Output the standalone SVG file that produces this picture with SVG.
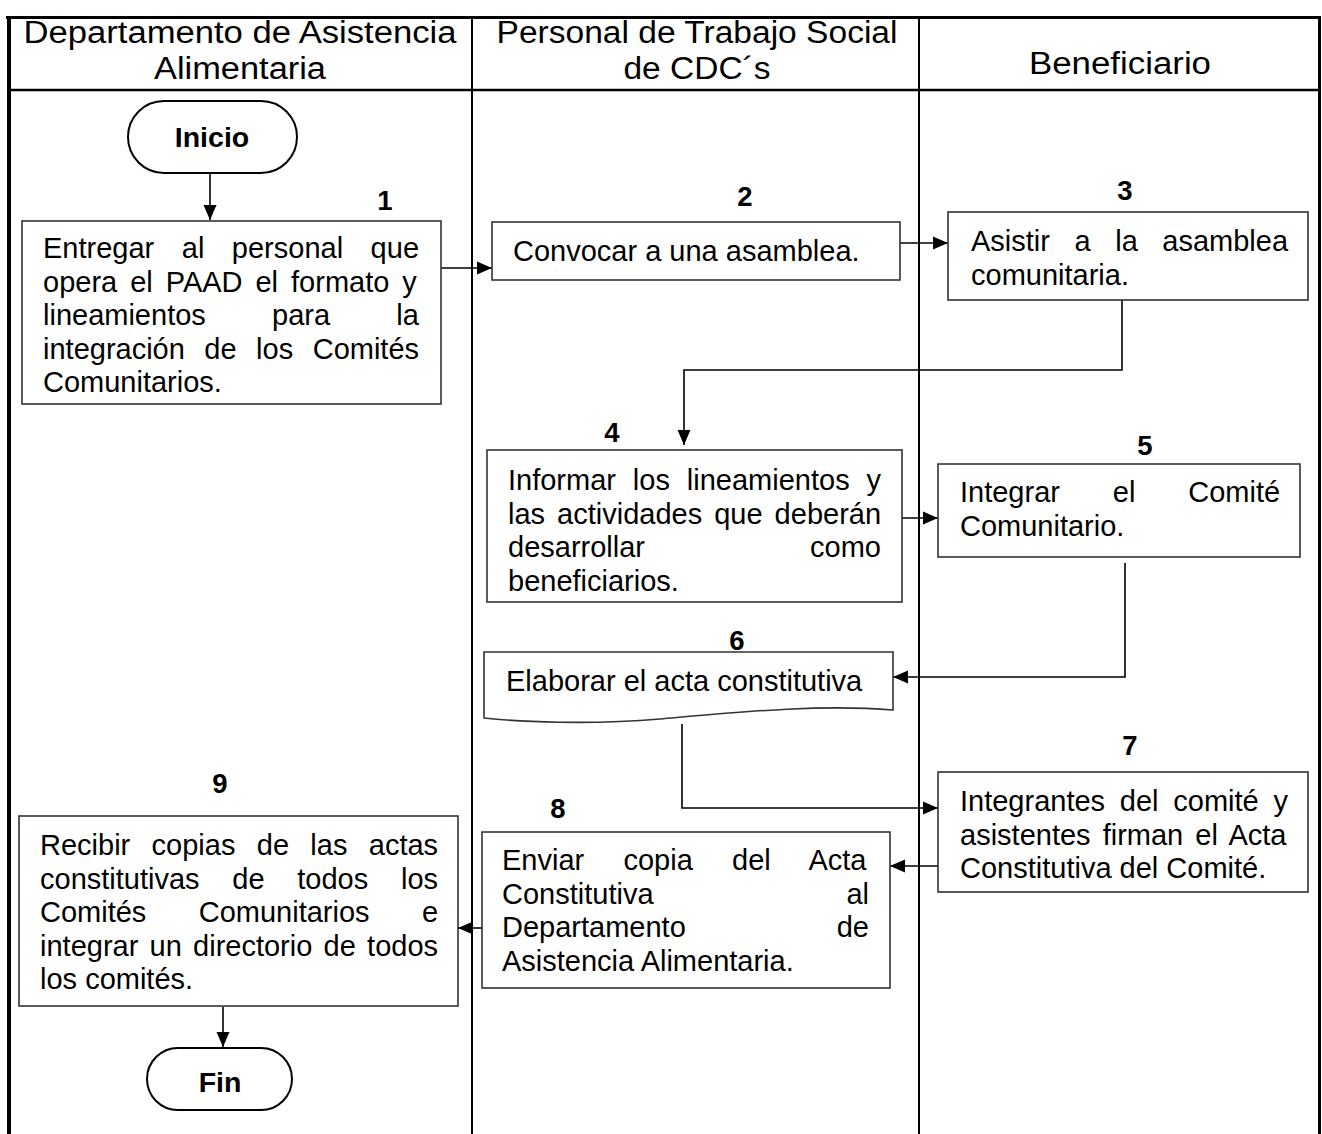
<svg xmlns="http://www.w3.org/2000/svg" width="1322" height="1134" viewBox="0 0 1322 1134">
<style>
.t{font-family:"Liberation Sans",Arial,sans-serif;font-size:29px;fill:#000}
.h{font-family:"Liberation Sans",Arial,sans-serif;font-size:31px;fill:#000;text-anchor:middle}
.n{font-family:"Liberation Sans",Arial,sans-serif;font-size:27.5px;font-weight:bold;fill:#000;text-anchor:middle}
.term{font-family:"Liberation Sans",Arial,sans-serif;font-size:28.5px;font-weight:bold;fill:#000;text-anchor:middle}
.box{fill:#fff;stroke:#333;stroke-width:1.6}
.tb{fill:#fff;stroke:#000;stroke-width:2}
.c{fill:none;stroke:#000;stroke-width:1.6}
.e{text-anchor:end}
</style>
<defs>
<marker id="ah" markerWidth="18" markerHeight="16" refX="15" refY="7" orient="auto" markerUnits="userSpaceOnUse">
<path d="M0,0.5 L15,7 L0,13.5 Z" fill="#000"/>
</marker>
</defs>

<g id="table">
<line x1="6" y1="17.5" x2="1321" y2="17.5" stroke="#000" stroke-width="3"/>
<line x1="9" y1="16" x2="9" y2="1134" stroke="#000" stroke-width="4"/>
<line x1="1319.5" y1="16" x2="1319.5" y2="1134" stroke="#000" stroke-width="3"/>
<line x1="8" y1="90" x2="1320" y2="90" stroke="#000" stroke-width="2.5"/>
<line x1="472" y1="17" x2="472" y2="1134" stroke="#000" stroke-width="2"/>
<line x1="919" y1="17" x2="919" y2="1134" stroke="#000" stroke-width="2"/>
<text class="h" x="240" y="43" textLength="433" lengthAdjust="spacingAndGlyphs">Departamento de Asistencia</text>
<text class="h" x="240" y="79" textLength="172" lengthAdjust="spacingAndGlyphs">Alimentaria</text>
<text class="h" x="697" y="43" textLength="401" lengthAdjust="spacingAndGlyphs">Personal de Trabajo Social</text>
<text class="h" x="697" y="79" textLength="147" lengthAdjust="spacingAndGlyphs">de CDC´s</text>
<text class="h" x="1120" y="74" textLength="182" lengthAdjust="spacingAndGlyphs">Beneficiario</text>
</g>

<g id="connectors">
<line class="c" x1="210" y1="174" x2="210" y2="220" marker-end="url(#ah)"/>
<line class="c" x1="441" y1="268" x2="492" y2="268" marker-end="url(#ah)"/>
<line class="c" x1="900" y1="243" x2="948" y2="243" marker-end="url(#ah)"/>
<polyline class="c" points="1122,300 1122,370 684,370 684,445" marker-end="url(#ah)"/>
<line class="c" x1="902" y1="518" x2="938" y2="518" marker-end="url(#ah)"/>
<polyline class="c" points="1125,563 1125,677 893,677" marker-end="url(#ah)"/>
<polyline class="c" points="682,724 682,808 938,808" marker-end="url(#ah)"/>
<line class="c" x1="938" y1="866" x2="890" y2="866" marker-end="url(#ah)"/>
<line class="c" x1="482" y1="928" x2="458" y2="928" marker-end="url(#ah)"/>
<line class="c" x1="223" y1="1007" x2="223" y2="1047" marker-end="url(#ah)"/>
</g>

<g id="inicio">
<rect class="tb" x="128" y="101" width="169" height="72" rx="36"/>
<text class="term" x="212" y="147">Inicio</text>
</g>

<g id="step1">
<text class="n" x="385" y="210">1</text>
<rect class="box" x="22" y="221" width="419" height="183"/>
<text class="t" x="43" y="258" style="word-spacing:19.47px">Entregar al personal que</text>
<text class="t" x="43" y="291.5" style="word-spacing:4.92px">opera el PAAD el formato y</text>
<text class="t" x="43" y="325" style="word-spacing:58.2px">lineamientos para la</text>
<text class="t" x="43" y="358.5" style="word-spacing:11.44px">integración de los Comités</text>
<text class="t" x="43" y="392">Comunitarios.</text>
</g>

<g id="step2">
<text class="n" x="745" y="206">2</text>
<rect class="box" x="492" y="222" width="408" height="58"/>
<text class="t" x="513" y="261">Convocar a una asamblea.</text>
</g>

<g id="step3">
<text class="n" x="1125" y="200">3</text>
<rect class="box" x="948" y="212" width="360" height="88"/>
<text class="t" x="971" y="251" style="word-spacing:16.5px">Asistir a la asamblea</text>
<text class="t" x="971" y="284.5">comunitaria.</text>
</g>

<g id="step4">
<text class="n" x="612" y="442">4</text>
<rect class="box" x="487" y="450" width="415" height="152"/>
<text class="t" x="508" y="490" style="word-spacing:8.84px">Informar los lineamientos y</text>
<text class="t" x="508" y="523.5" style="word-spacing:3.97px">las actividades que deberán</text>
<text class="t" x="508" y="557">desarrollar</text>
<text class="t e" x="881" y="557">como</text>
<text class="t" x="508" y="590.5">beneficiarios.</text>
</g>

<g id="step5">
<text class="n" x="1145" y="455">5</text>
<rect class="box" x="938" y="464" width="362" height="93"/>
<text class="t" x="960" y="502" style="word-spacing:44.8px">Integrar el Comité</text>
<text class="t" x="960" y="535.5">Comunitario.</text>
</g>

<g id="step6">
<text class="n" x="737" y="650">6</text>
<path class="box" d="M484,652 H893 V710 C820,704 740,712 660,719 C590,725 520,722 484,718 Z"/>
<text class="t" x="506" y="691">Elaborar el acta constitutiva</text>
</g>

<g id="step7">
<text class="n" x="1130" y="755">7</text>
<rect class="box" x="938" y="772" width="370" height="120"/>
<text class="t" x="960" y="811" style="word-spacing:6.71px">Integrantes del comité y</text>
<text class="t" x="960" y="844.5" style="word-spacing:4.04px">asistentes firman el Acta</text>
<text class="t" x="960" y="878">Constitutiva del Comité.</text>
</g>

<g id="step8">
<text class="n" x="558" y="818">8</text>
<rect class="box" x="482" y="832" width="408" height="156"/>
<text class="t" x="502" y="870" style="word-spacing:31.2px">Enviar copia del Acta</text>
<text class="t" x="502" y="903.5">Constitutiva</text>
<text class="t e" x="869" y="903.5">al</text>
<text class="t" x="502" y="937">Departamento</text>
<text class="t e" x="869" y="937">de</text>
<text class="t" x="502" y="970.5">Asistencia Alimentaria.</text>
</g>

<g id="step9">
<text class="n" x="220" y="793">9</text>
<rect class="box" x="19" y="816" width="439" height="190"/>
<text class="t" x="40" y="855" style="word-spacing:13.29px">Recibir copias de las actas</text>
<text class="t" x="40" y="888.5" style="word-spacing:24.67px">constitutivas de todos los</text>
<text class="t" x="40" y="922" style="word-spacing:44.3px">Comités Comunitarios e</text>
<text class="t" x="40" y="955.5" style="word-spacing:3.19px">integrar un directorio de todos</text>
<text class="t" x="40" y="989">los comités.</text>
</g>

<g id="fin">
<rect class="tb" x="147" y="1048" width="145" height="62" rx="31"/>
<text class="term" x="220" y="1092">Fin</text>
</g>
</svg>
